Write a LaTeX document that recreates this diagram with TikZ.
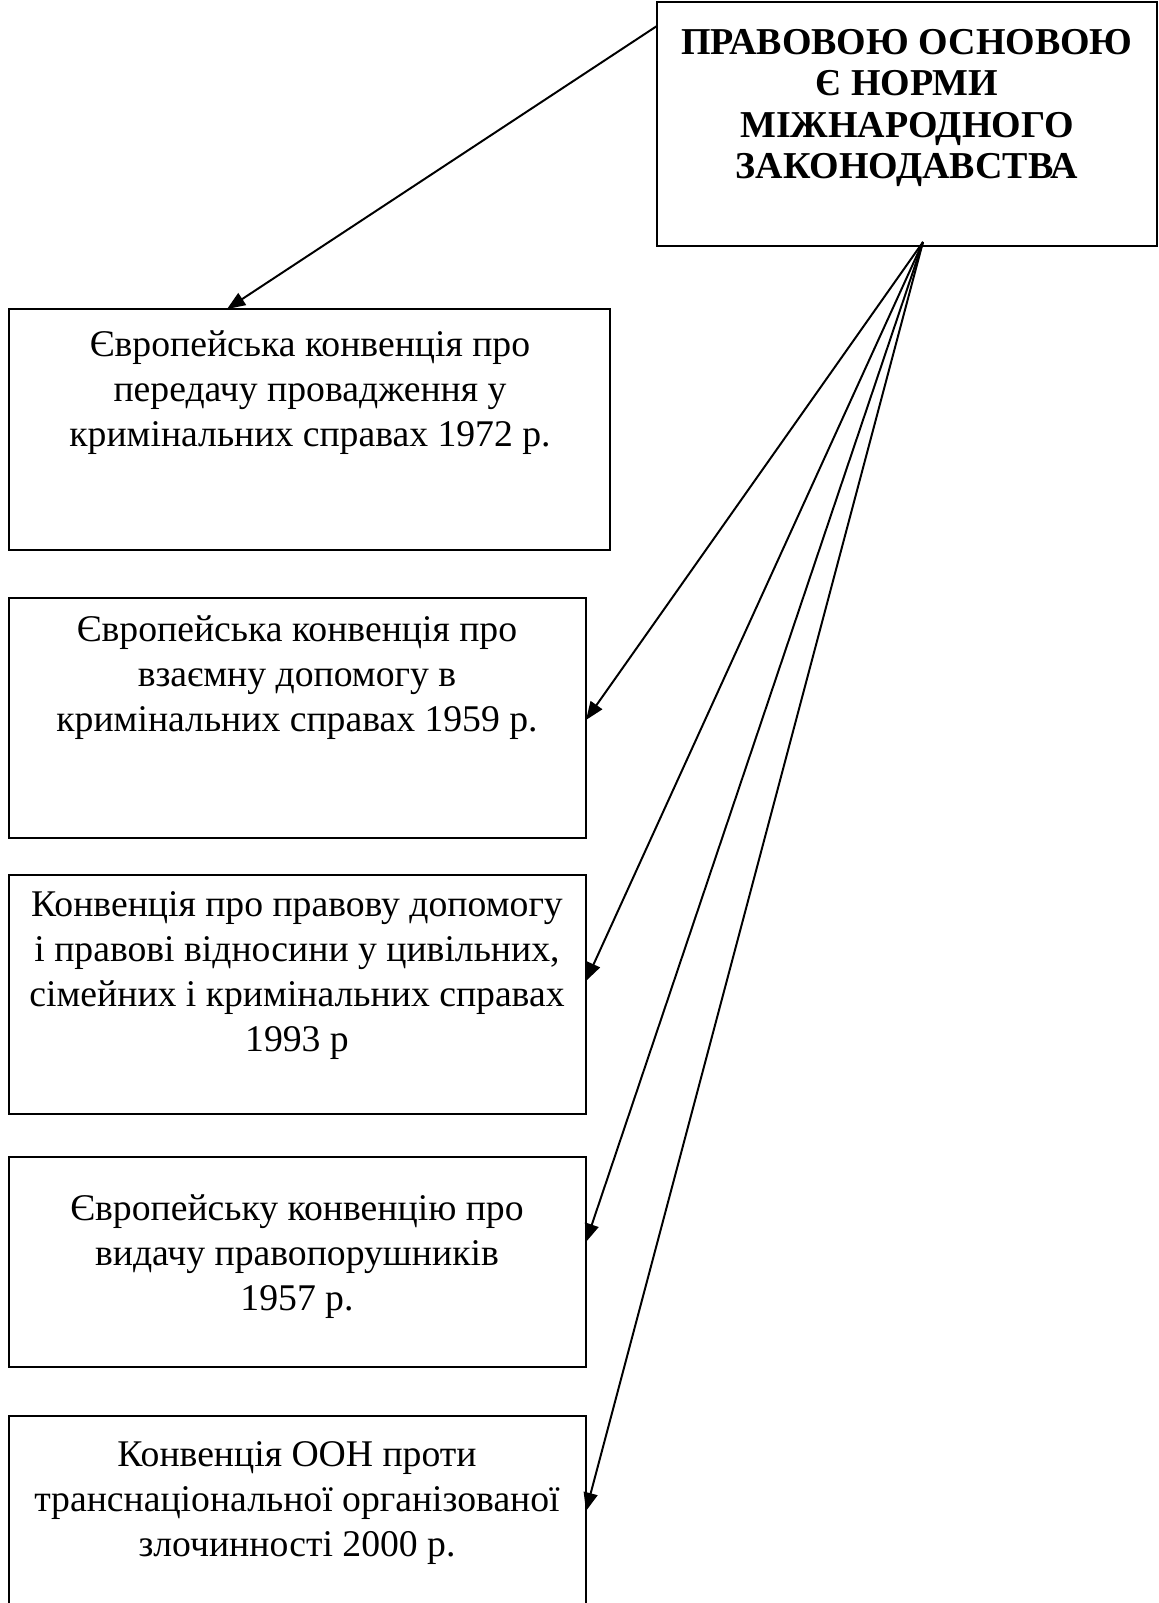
\documentclass[tikz,border=0pt]{standalone}
\usepackage{fontspec}
\setmainfont{Liberation Serif}
\usetikzlibrary{arrows.meta}

\begin{document}
\begin{tikzpicture}[%
        x = 0.0125cm,
        y = -0.0125cm,
        line width = 0.7pt,
        font = \fontsize{13.4}{16}\selectfont,
        > = {Triangle[length = 6.5pt, width = 5pt]}
    ]
        \useasboundingbox (0,0) rectangle (1158,1603);

        % Frames of all of the boxes.
        \begin{scope}[%
            every node/.style = {
                rectangle,
                draw = black,
                inner sep = 0pt,
                outer sep = 0pt
            }
        ]
            \node (top) at (907,124) [minimum width = 6.25cm, minimum height = 3.05cm] {};
            \node (b1) at (309.5,429.5) [minimum width = 7.51cm, minimum height = 3.01cm] {};
            \node (b2) at (297.5,718) [minimum width = 7.21cm, minimum height = 3cm] {};
            \node (b3) at (297.5,994.5) [minimum width = 7.21cm, minimum height = 2.99cm] {};
            \node (b4) at (297.5,1262) [minimum width = 7.21cm, minimum height = 2.63cm] {};
            \node (b5) at (297.5,1515.5) [minimum width = 7.21cm, minimum height = 2.49cm] {};
        \end{scope}

        % Texts inside the boxes.
        \begin{scope}[every node/.style = {align = center, inner sep = 0pt}]
            \node (ttop) at (907,108) [font = \fontsize{13.5}{14.6}\selectfont\bfseries]
                {ПРАВОВОЮ ОСНОВОЮ\\Є НОРМИ\\МІЖНАРОДНОГО\\ЗАКОНОДАВСТВА};
            \node (t1) at (310,393)
                {Європейська конвенція про\\передачу провадження у\\кримінальних справах 1972 р.};
            \node (t2) at (297,678)
                {Європейська конвенція про\\взаємну допомогу в\\кримінальних справах 1959 р.};
            \node (t3) at (297,976)
                {Конвенція про правову допомогу\\і правові відносини у цивільних,\\сімейних і кримінальних справах\\1993 р};
            \node (t4) at (297,1257)
                {Європейську конвенцію про\\видачу правопорушників\\1957 р.};
            \node (t5) at (297,1503)
                {Конвенція ООН проти\\транснаціональної організованої\\злочинності 2000 р.};
        \end{scope}

        % Arrows from the top box.
        \coordinate (fan) at (923,242);
        \draw[->] (top.west |- 0,26) to (b1.north -| 227,0);
        \draw[->] (fan) to (b2.east |- 0,720);
        \draw[->] (fan) to (b3.east |- 0,981);
        \draw[->] (fan) to (b4.east |- 0,1242);
        \draw[->] (fan) to (b5.east |- 0,1511);
    \end{tikzpicture}
\end{document}
